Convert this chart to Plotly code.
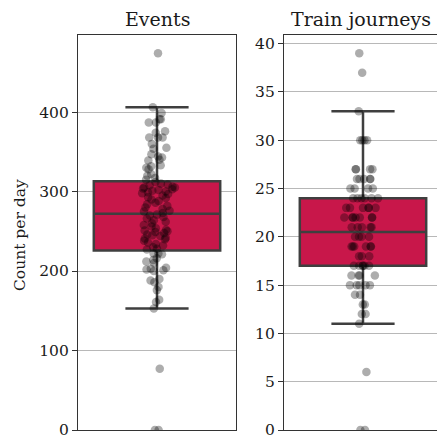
import plotly.graph_objects as go

# ---- data ----
panel_titles = ["Events", "Train journeys"]
y_label = "Count per day"

events = [474,
          406, 399, 391, 391, 387, 387, 376, 374, 368, 368, 368, 360, 355, 354,
          347, 344, 343, 340, 339, 333, 332, 330, 328, 322, 320, 317, 315,
          312, 310, 309, 308, 306, 305, 305, 304, 303, 302, 301, 300, 299, 298,
          297, 295, 293, 292, 290, 288, 286, 284, 282, 280, 278, 276, 275, 273,
          271, 270, 268, 266, 264, 262, 260, 258, 256, 254, 252, 251, 250, 249,
          248, 246, 245, 244, 242, 241, 240, 238, 236, 234, 232, 230, 228, 227,
          222, 222, 221, 216, 214, 212, 210, 204, 203, 202, 201, 200, 190, 188,
          186, 180, 176, 164, 161, 153,
          77, 0, 0]

train_journeys = [39, 37, 33,
                  30, 30, 30, 30,
                  27, 27, 27, 27,
                  26, 26, 26, 26, 26,
                  25, 25, 25, 25,
                  24, 24, 24, 24, 24, 24,
                  23, 23, 23, 23, 23, 23,
                  22, 22, 22, 22, 22, 22, 22,
                  21, 21, 21, 21, 21,
                  20, 20, 20, 20,
                  19, 19, 19, 19, 19, 19,
                  18, 18, 18,
                  17, 17, 17, 17, 17, 17,
                  16, 16, 16, 16,
                  15, 15, 15, 15, 15,
                  14, 14, 13, 13, 12, 12, 11, 6, 0, 0]

# box statistics (q1, median, q3, lower whisker, upper whisker)
events_stats = [226, 272, 313, 153, 406]
train_stats = [17, 20.5, 24, 11, 33]

events_ticks = [0, 100, 200, 300, 400]
train_ticks = [0, 5, 10, 15, 20, 25, 30, 35, 40]

# ---- styling ----
FONT = "DejaVu Serif"
BOX_FILL = "#C8174A"
BOX_LINE = "#3f3f3f"
SPINE = "#333333"
GRID = "#b8b8b8"
PT = "rgba(0,0,0,0.32)"

fig = go.Figure()


def add_panel(values, stats, xa, ya):
    q1, med, q3, lo, hi = stats
    fig.add_trace(go.Box(
        x=[0], q1=[q1], median=[med], q3=[q3], lowerfence=[lo], upperfence=[hi],
        width=0.8, fillcolor=BOX_FILL, line=dict(color=BOX_LINE, width=2.5),
        whiskerwidth=0.5, boxpoints=False, showlegend=False,
        xaxis=xa, yaxis=ya, hoverinfo="skip"))
    fig.add_trace(go.Box(
        y=values, x0=0, width=0.8, boxpoints="all", jitter=0.3, pointpos=0,
        fillcolor="rgba(0,0,0,0)", line=dict(color="rgba(0,0,0,0)", width=0),
        whiskerwidth=0, marker=dict(color=PT, size=8.5, line=dict(width=0)),
        showlegend=False, xaxis=xa, yaxis=ya))


add_panel(events, events_stats, "x", "y")
add_panel(train_journeys, train_stats, "x2", "y2")

W, H = 437, 439
ml, mt, mb = 0, 35, 9
plot_h = H - mt - mb

axis_common = dict(showline=True, linecolor=SPINE, linewidth=1.25, zeroline=False)
TICK = 15.5

fig.update_layout(
    width=W, height=H,
    margin=dict(l=ml, r=0, t=mt, b=mb),
    paper_bgcolor="white", plot_bgcolor="white",
    boxmode="overlay",
    font=dict(family=FONT, size=TICK, color="#1a1a1a"),
    xaxis=dict(domain=[78 / W, 236 / W], range=[-0.5, 0.5], mirror=True,
               showticklabels=False, ticks="", showgrid=False, **axis_common),
    yaxis=dict(range=[0, 497], tickvals=events_ticks, ticks="outside", ticklen=5,
               tickwidth=1.25, tickcolor=SPINE, mirror=True, showgrid=True,
               gridcolor=GRID, gridwidth=1, tickfont=dict(size=TICK),
               ticklabeloverflow="allow", **axis_common),
    xaxis2=dict(domain=[284 / W, 1.0], range=[-0.5, 0.5 - 5 / 158], mirror=True,
                showticklabels=False, ticks="", showgrid=False, anchor="y2",
                **axis_common),
    yaxis2=dict(range=[0, 40.9], tickvals=train_ticks, ticks="outside", ticklen=5,
                tickwidth=1.25, tickcolor=SPINE, mirror=False, showgrid=True,
                gridcolor=GRID, gridwidth=1, anchor="x2", tickfont=dict(size=TICK),
                ticklabeloverflow="allow", **axis_common),
)

title_y = (H - mb - 19) / plot_h
fig.add_annotation(text=panel_titles[0], x=157 / W, y=title_y, xref="paper", yref="paper",
                   showarrow=False, font=dict(size=19), xanchor="center", yanchor="middle")
fig.add_annotation(text=panel_titles[1], x=361 / W, y=title_y, xref="paper", yref="paper",
                   showarrow=False, font=dict(size=19), xanchor="center", yanchor="middle")
fig.add_annotation(text=y_label, x=20 / W, y=(H - mb - 235) / plot_h, xref="paper",
                   yref="paper", showarrow=False, textangle=-90, font=dict(size=TICK),
                   xanchor="center", yanchor="middle")

fig.write_html("out.html", config={"displayModeBar": False},
               post_script="document.body.style.margin='0';document.body.style.overflow='hidden';")
